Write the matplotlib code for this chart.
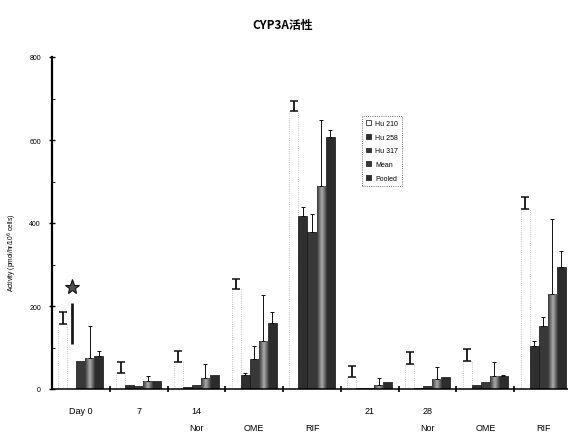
import numpy as np
import matplotlib
matplotlib.use("Agg")
import matplotlib.pyplot as plt
from matplotlib.patches import Patch

# ---- data -------------------------------------------------------------
day_labels = ["Day 0", "7", "14", "", "", "21", "28", "", ""]
treat_labels = ["", "", "Nor", "OME", "RIF", "", "Nor", "OME", "RIF"]
series_names = ["Hu 210", "Hu 258", "Hu 317", "Mean", "Pooled"]

hu210 = [157, 38, 66, 241, 671, 28, 60, 68, 434]
hu258 = [0, 10, 6, 34, 418, 2, 2, 10, 104]
hu317 = [68, 7, 10, 72, 378, 3, 8, 16, 152]
mean = [75, 19, 27, 116, 490, 10, 24, 31, 229]
pooled = [80, 19, 34, 158, 607, 16, 30, 31, 294]

hu210_sd = [29, 27, 26, 24, 23, 28, 28, 28, 29]
hu258_sd = [0, 0, 0, 5, 21, 0, 0, 0, 12]
hu317_sd = [0, 0, 0, 31, 44, 0, 0, 0, 21]
mean_sd = [77, 13, 33, 110, 157, 16, 28, 33, 181]
pooled_sd = [12, 0, 0, 28, 18, 0, 0, 3, 39]

# Day 0 significance mark on Hu 258: range bar and star level
day0_range = [108, 208]
day0_star = 246

y_ticks = [0, 200, 400, 600, 800]

# ---- figure -----------------------------------------------------------
W, H = 568, 435
fig = plt.figure(figsize=(W / 100, H / 100), dpi=100)
fig.patch.set_facecolor("white")

n_groups = len(hu210)
ax = fig.add_axes([52 / W, 45 / H, 520 / W, 332 / H])

values = [hu210, hu258, hu317, mean, pooled]
sds = [hu210_sd, hu258_sd, hu317_sd, mean_sd, pooled_sd]
bw = 0.156
offsets = (np.arange(5) - 2) * bw
gx = np.arange(n_groups) + 0.5

dark = ["#2f2f2f", "#383838", None, "#2c2c2c"]

for k in range(5):
    xs = gx + offsets[k]
    v = np.array(values[k], dtype=float)
    if k == 0:
        ax.bar(xs, v, width=bw, facecolor="white", edgecolor="#b4b4b4",
               linestyle=":", linewidth=0.6, zorder=2)
    elif k == 3:
        bars = ax.bar(xs, v, width=bw, facecolor="#3a3a3a",
                      edgecolor="#111111", linewidth=0.5, zorder=2)
        grad = 1 - np.abs(np.linspace(-1, 1, 64))
        grad = np.vstack([grad, grad])
        for b in bars:
            x0 = b.get_x()
            h = b.get_height()
            if h <= 0:
                continue
            im = ax.imshow(grad, extent=[x0, x0 + bw, 0, h], aspect="auto",
                           cmap="gray", vmin=-0.45, vmax=1.7,
                           interpolation="bilinear", zorder=2.5)
            im.set_clip_path(b)
    else:
        col = {1: dark[0], 2: dark[1], 4: dark[3]}[k]
        ax.bar(xs, v, width=bw, facecolor=col, edgecolor="#111111",
               linewidth=0.5, zorder=2)

    err = np.array(sds[k], dtype=float)
    m = err > 0
    if k == 0:
        ax.errorbar(xs[m], v[m], yerr=[np.zeros(m.sum()), err[m]], fmt="none",
                    ecolor="#111111", elinewidth=1.3, capsize=2.6,
                    capthick=1.1, zorder=3)
    else:
        ax.errorbar(xs[m], v[m], yerr=[np.zeros(m.sum()), err[m]], fmt="none",
                    ecolor="#111111", elinewidth=0.7, capsize=1.4,
                    capthick=0.7, zorder=3)

# Day 0 mark on Hu 258
x_mark = gx[0] + offsets[1]
ax.vlines(x_mark, day0_range[0], day0_range[1], color="#1a1a1a",
          linewidth=2.0, zorder=3)
ax.plot([x_mark], [day0_star], marker="*", markersize=11,
        markerfacecolor="#505050", markeredgecolor="#111111",
        markeredgewidth=0.8, zorder=4)

ax.set_xlim(0, n_groups)
ax.set_ylim(0, 800)

for s in ("top", "right"):
    ax.spines[s].set_visible(False)
ax.spines["left"].set_linewidth(1.6)
ax.spines["bottom"].set_linewidth(1.1)

ax.set_yticks(y_ticks)
ax.set_yticklabels([str(t) for t in y_ticks], fontsize=5,
                   family="Liberation Sans")
ax.set_yticks(np.arange(100, 800, 200), minor=True)
ax.tick_params(axis="y", which="major", direction="inout", length=4,
               width=1, pad=6)
ax.tick_params(axis="y", which="minor", direction="in", length=2, width=0.6)

ax.set_xticks(np.arange(1, n_groups + 1))
ax.set_xticklabels([])
ax.tick_params(axis="x", which="major", direction="inout", length=4,
               width=1.2)

for i in range(n_groups):
    if day_labels[i]:
        ax.text(gx[i], -0.066, day_labels[i], transform=ax.get_xaxis_transform(),
                ha="center", va="center", fontsize=6.5, family="Liberation Sans",
                clip_on=False)
    if treat_labels[i]:
        ax.text(gx[i], -0.115, treat_labels[i], transform=ax.get_xaxis_transform(),
                ha="center", va="center", fontsize=6.5, family="Liberation Sans",
                clip_on=False)

fig.text(283 / W, 1 - 25 / H, "CYP3A活性", ha="center", va="center",
         fontsize=8.5, fontweight="bold",
         family=["Noto Sans CJK JP", "DejaVu Sans"])

fig.text(12 / W, 1 - 253 / H, "Activity (pmol/hr/10$^6$ cells)",
         rotation=90, ha="center", va="center", fontsize=4.8,
         family="Liberation Sans")

handles = [
    Patch(facecolor="white", edgecolor="#333333", linewidth=0.6),
    Patch(facecolor=dark[0], edgecolor="#111111", linewidth=0.5),
    Patch(facecolor=dark[1], edgecolor="#111111", linewidth=0.5),
    Patch(facecolor="#3a3a3a", edgecolor="#111111", linewidth=0.5),
    Patch(facecolor=dark[3], edgecolor="#111111", linewidth=0.5),
]
leg = ax.legend(handles, series_names, loc="upper left",
                bbox_to_anchor=((362 - 52) / 520, (390 - 117) / 332),
                prop={"family": "Liberation Sans", "size": 5},
                handlelength=0.7, handleheight=0.7, handletextpad=0.6,
                labelspacing=0.95, borderpad=0.6, fancybox=False,
                framealpha=1, borderaxespad=0)
fr = leg.get_frame()
fr.set_edgecolor("#444444")
fr.set_linewidth(0.6)
fr.set_linestyle(":")

fig.savefig("out.png", dpi=100)
